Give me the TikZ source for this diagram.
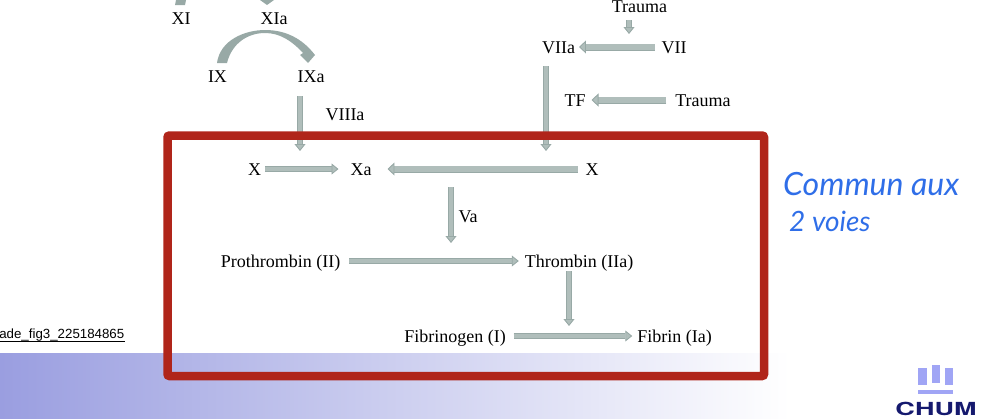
\documentclass[tikz,border=0pt]{standalone}
\usepackage{fontspec}
\setmainfont{Liberation Serif}
\newfontfamily\linkfont{Liberation Sans}
\newfontfamily\handfont{Lato}
\newfontfamily\logofont[FakeStretch=1.5]{TeX Gyre Heros}
\usetikzlibrary{arrows.meta}
\definecolor{flowedge}{HTML}{98A9A6}
\definecolor{flowfill}{HTML}{B0BEBB}
\definecolor{boxred}{HTML}{B0251A}
\definecolor{bandblue}{HTML}{9A9EE0}
\definecolor{handblue}{HTML}{2F6EE8}
\definecolor{logoblue}{HTML}{A0A5F5}
\definecolor{logonavy}{HTML}{15196E}
\tikzset{
  factor/.style={inner sep=0pt, outer sep=4pt, text height=12pt, text depth=0pt, font=\fontsize{18}{20}\selectfont},
  flow/.style={draw=flowedge, line width=.9pt, double=flowfill, double distance=3.4pt, -{Triangle[length=7pt,width=11pt,fill=flowfill]}},
  flowbig/.style={flow, double distance=5.2pt, -{Triangle[length=7pt,width=13pt,fill=flowfill]}},
  note/.style={anchor=west, inner sep=0pt, text=handblue, font=\handfont\itshape\fontsize{32}{34}\selectfont},
}
\begin{document}
\begin{tikzpicture}[x=1pt, y=-1pt]
  \useasboundingbox (0,0) rectangle (996,418);

  % bande du bas
  \shade[left color=bandblue, right color=white] (0,353) rectangle (790,418);

  % facteurs
  \node[factor] (XI) at (181,18) {XI};
  \node[factor] (XIa) at (274,18) {XIa};
  \node[factor] (IX) at (217.5,76) {IX};
  \node[factor] (IXa) at (311,76) {IXa};
  \node[factor] (VIIIa) at (345,114) {VIIIa};
  \node[factor] (TraumaA) at (639.5,6) {Trauma};
  \node[factor] (VIIa) at (558.5,47) {VIIa};
  \node[factor] (VII) at (674,47) {VII};
  \node[factor] (TF) at (575,100) {TF};
  \node[factor] (TraumaB) at (703,100) {Trauma};
  \node[factor] (Xleft) at (254.5,169) {X};
  \node[factor] (Xa) at (361,169) {Xa};
  \node[factor] (Xright) at (592,169) {X};
  \node[factor] (Va) at (468,216) {Va};
  \node[factor] (Prothrombin) at (280.5,261) {Prothrombin (II)};
  \node[factor] (Thrombin) at (579,261) {Thrombin (IIa)};
  \node[factor] (Fibrinogen) at (455,336) {Fibrinogen (I)};
  \node[factor] (Fibrin) at (674.5,336) {Fibrin (Ia)};

  % bouts libres des fleches verticales
  \coordinate (tipIXa) at (300,151);
  \coordinate (tipVIIa) at (546,151);
  \coordinate (tipTrauma) at (629,34);
  \coordinate (startVa) at (451,187);
  \coordinate (tipVa) at (451,243);
  \coordinate (tipThrombin) at (569,326);

  % fleches
  \draw[flow, shorten <=10pt] (IXa.south -| tipIXa) -- (tipIXa);
  \draw[flow, shorten <=9pt] (VIIa.south -| tipVIIa) -- (tipVIIa);
  \draw[flow, shorten <=4pt] (TraumaA.south -| tipTrauma) -- (tipTrauma);
  \draw[flow] (startVa) -- (tipVa);
  \draw[flow] (Thrombin.south -| tipThrombin) -- (tipThrombin);
  \draw[flowbig, shorten <=3pt] (VII) -- (VIIa);
  \draw[flowbig, shorten <=5pt, shorten >=2pt] (TraumaB) -- (TF);
  \draw[flowbig, shorten <=4pt, shorten >=12pt] (Xright) -- (Xa);
  \draw[flow, shorten >=8pt] (Xleft) -- (Xa);
  \draw[flow, shorten <=5pt, shorten >=2pt] (Prothrombin) -- (Thrombin);
  \draw[flow, shorten <=4pt, shorten >=1pt] (Fibrinogen) -- (Fibrin);

  % arc IX vers IXa et bouts coupes en haut
  \fill[flowedge] (217,63) .. controls (220,40) and (245,30) .. (265,30)
    .. controls (285,30) and (302,38) .. (315,55) -- (308,63) -- (300,55)
    -- (303,53) .. controls (292,41) and (280,33) .. (265,33)
    .. controls (248,33) and (232,43) .. (227,63) -- cycle;
  \fill[flowedge] (176,0) -- (186,0) -- (185,5) -- (175,5) -- cycle;
  \fill[flowedge] (260,0) -- (274,0) -- (267,5) -- cycle;

  % cadre rouge
  \draw[boxred, line width=8.5pt, rounded corners=2pt] (167.5,135.5) rectangle (764,376);

  % lien coupe
  \node[anchor=east, inner sep=0pt, font=\linkfont\fontsize{13.3}{15}\selectfont] (link) at (124.5,335) {ade\_fig3\_225184865};
  \draw[line width=.8pt] ([yshift=-2.5pt]link.base west) -- ([yshift=-2.5pt]link.base east);

  % note manuscrite
  \node[note] (noteA) at (783,184) {Commun aux};
  \node[note, font=\handfont\itshape\fontsize{28}{30}\selectfont] (noteB) at (789,221) {2 voies};

  % logo
  \fill[logoblue] (918,368) rectangle (927,385);
  \fill[logoblue] (932,365) rectangle (940,383);
  \fill[logoblue] (945,368) rectangle (953,385);
  \fill[logoblue] (918,390) rectangle (953,394);
  \node[inner sep=0pt, text=logonavy, font=\logofont\bfseries\fontsize{18}{19}\selectfont] (chum) at (936,409) {CHUM};
\end{tikzpicture}
\end{document}
